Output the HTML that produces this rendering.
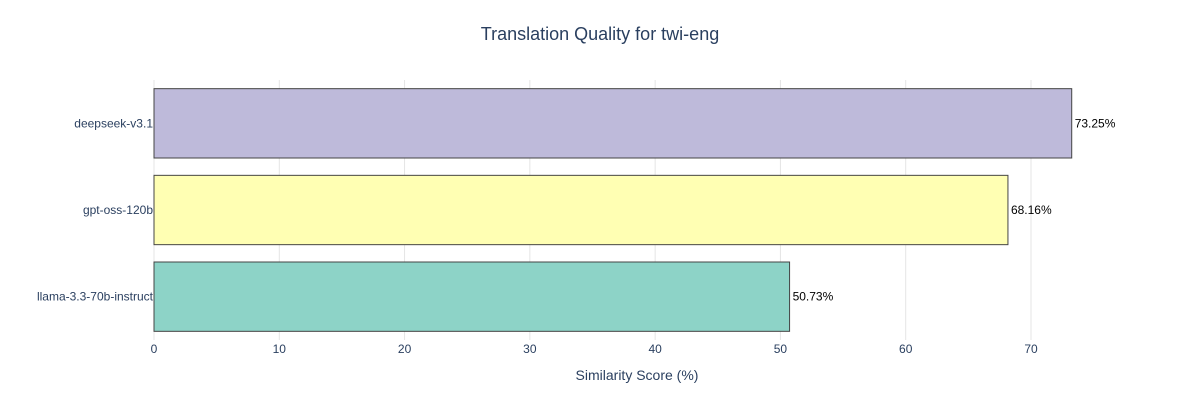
<!DOCTYPE html>
<html><head><meta charset="utf-8">
<style>
body{margin:0;background:#fff;font-family:"Liberation Sans",Arial,sans-serif;}
svg text{font-family:"Liberation Sans",Arial,sans-serif;}
</style></head>
<body>
<svg id="chart" width="1200" height="400" xmlns="http://www.w3.org/2000/svg">
<rect width="1200" height="400" fill="#fff"/>
<text x="600" y="40" text-anchor="middle" font-size="18" fill="#2a3f5f">Translation Quality for twi-eng</text>
<g id="grid"></g>
<g id="bars"></g>
<g id="xticks"></g>
<g id="ylabels"></g>
<text x="637" y="380" text-anchor="middle" font-size="14" fill="#2a3f5f">Similarity Score (%)</text>
</svg>
<script>
const categories = ["deepseek-v3.1","gpt-oss-120b","llama-3.3-70b-instruct"];
const values = [73.25,68.16,50.73];
const labels = ["73.25%","68.16%","50.73%"];
const colors = ["#bebada","#ffffb3","#8dd3c7"];
const xTicks = [0,10,20,30,40,50,60,70];

const NS="http://www.w3.org/2000/svg";
const pLeft=154, pRight=1031, pTop=80, pBottom=340;
const xScale=v=>pLeft+(pRight-pLeft)*v/70;
const band=(pBottom-pTop)/categories.length;
function mk(tag,attrs,parent,text){const e=document.createElementNS(NS,tag);for(const k in attrs)e.setAttribute(k,attrs[k]);if(text!==undefined)e.textContent=text;document.getElementById(parent).appendChild(e);return e;}
xTicks.forEach(t=>{
  const x=xScale(t);
  const g=mk('line',{x1:x,x2:x,y1:pTop,y2:pBottom,stroke:'#e5e5e5','stroke-width':1},'grid');
  
  
  const tx=mk('text',{x:x,y:353,'text-anchor':'middle','font-size':12,fill:'#2a3f5f'},'xticks',String(t));
  
  
});
categories.forEach((c,i)=>{
  const cy=pTop+band*(i+0.5), h=band*0.8;
  const r=mk('rect',{x:xScale(0),y:cy-h/2,width:xScale(values[i])-xScale(0),height:h,fill:colors[i],stroke:'#444','stroke-width':1},'bars');
  
  
  const v=mk('text',{x:xScale(values[i])+3,y:cy+4,'font-size':12,fill:'#000'},'bars',labels[i]);
  
  
  const l=mk('text',{x:153,y:cy+4,'text-anchor':'end','font-size':12,fill:'#2a3f5f'},'ylabels',c);
  
  
});
</script>
</body></html>
